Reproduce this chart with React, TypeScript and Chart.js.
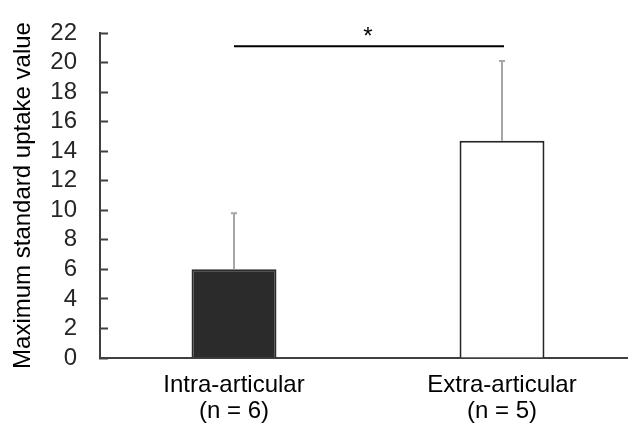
import React, { useEffect, useRef } from 'react';
import { Chart, registerables } from 'chart.js';

Chart.register(...registerables);

const categories = [
  ['Intra-articular', '(n = 6)'],
  ['Extra-articular', '(n = 5)'],
];
const means = [6.0, 14.7];
const errors = [3.8, 5.4];
const yTicks = [0, 2, 4, 6, 8, 10, 12, 14, 16, 18, 20, 22];
const yTitle = 'Maximum standard uptake value';
const sigLevel = 21.1;
const sigLabel = '*';

const FONT = "'Liberation Sans', Arial, sans-serif";

const annotationsPlugin = {
  id: 'annotations',
  afterDraw(chart: any) {
    const ctx = chart.ctx;
    const x = chart.scales.x;
    const y = chart.scales.y;
    ctx.save();
    ctx.strokeStyle = '#a6a6a6';
    ctx.lineWidth = 2;
    means.forEach((m, i) => {
      const px = x.getPixelForValue(i);
      const top = y.getPixelForValue(m + errors[i]);
      const base = y.getPixelForValue(m);
      ctx.beginPath();
      ctx.moveTo(px, base);
      ctx.lineTo(px, top);
      ctx.moveTo(px - 3, top);
      ctx.lineTo(px + 3, top);
      ctx.stroke();
    });
    const sy = y.getPixelForValue(sigLevel);
    const x0 = x.getPixelForValue(0);
    const x1 = x.getPixelForValue(1);
    ctx.strokeStyle = '#000';
    ctx.lineWidth = 2;
    ctx.beginPath();
    ctx.moveTo(x0, sy);
    ctx.lineTo(x1 + 2, sy);
    ctx.stroke();
    ctx.fillStyle = '#000';
    ctx.font = `24px ${FONT}`;
    ctx.textAlign = 'center';
    ctx.textBaseline = 'alphabetic';
    ctx.fillText(sigLabel, (x0 + x1) / 2, sy - 2);
    ctx.restore();
  },
};

export default function App() {
  const ref = useRef<HTMLCanvasElement>(null);
  useEffect(() => {
    if (!ref.current) return;
    const chart = new Chart(ref.current, {
      type: 'bar',
      data: {
        labels: categories,
        datasets: [
          {
            data: means,
            backgroundColor: ['#2b2b2b', '#ffffff'],
            borderColor: ['#2b2b2b', '#262626'],
            borderWidth: 2,
            borderSkipped: 'start',
            categoryPercentage: 1,
            barPercentage: 0.317,
          },
        ],
      },
      options: {
        responsive: false,
        animation: false,
        layout: { padding: { top: 33, right: 0, left: 0, bottom: 0 } },
        plugins: { legend: { display: false }, tooltip: { enabled: false } },
        scales: {
          x: {
            grid: { display: false, drawTicks: false },
            border: { color: '#404040', width: 2 },
            ticks: {
              color: '#000',
              font: { family: FONT, size: 24, lineHeight: 1.08 },
              padding: 14,
              maxRotation: 0,
              autoSkip: false,
            },
            afterFit(scale: any) {
              scale.height = 67;
              scale.paddingLeft = 0;
              scale.paddingRight = 0;
            },
          },
          y: {
            min: 0,
            max: 22,
            grid: {
              display: true,
              drawOnChartArea: false,
              drawTicks: true,
              tickLength: -8,
              tickWidth: 2,
              tickColor: '#404040',
            },
            border: { color: '#404040', width: 2 },
            afterBuildTicks(scale: any) {
              scale.ticks = yTicks.map((v) => ({ value: v }));
            },
            ticks: {
              color: '#262626',
              font: { family: FONT, size: 24 },
              padding: 31,
              autoSkip: false,
            },
            title: {
              display: true,
              text: yTitle,
              color: '#000',
              font: { family: FONT, size: 24 },
              padding: { top: 9, bottom: 0 },
            },
            afterFit(scale: any) {
              scale.width = 100;
              scale.paddingTop = 0;
              scale.paddingBottom = 0;
            },
          },
        },
      },
      plugins: [annotationsPlugin],
    });
    return () => chart.destroy();
  }, []);
  return (
    <div
      style={{
        position: 'fixed',
        left: 0,
        top: 0,
        width: 628,
        height: 425,
        overflow: 'hidden',
        background: '#fff',
      }}
    >
      <canvas ref={ref} width={636} height={425} style={{ display: 'block' }} />
    </div>
  );
}
